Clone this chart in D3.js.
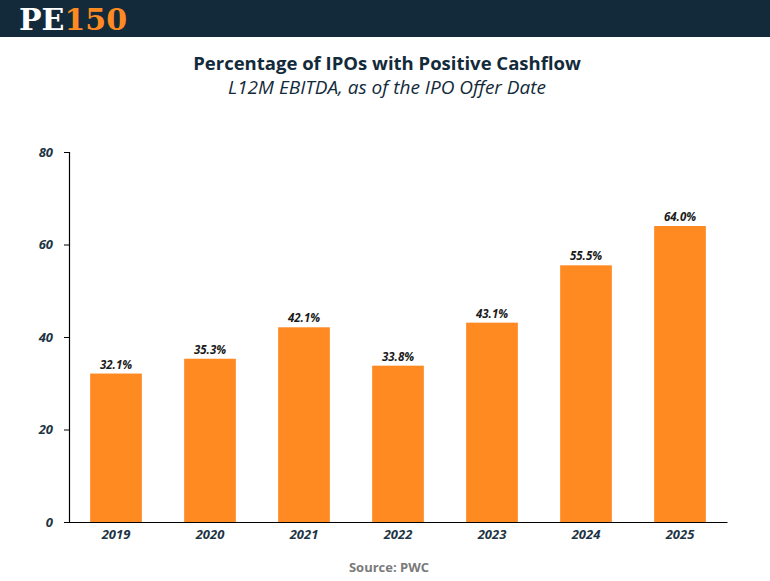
<!DOCTYPE html>
<html>
<head>
<meta charset="utf-8">
<script src="https://cdn.jsdelivr.net/npm/d3@7"></script>
<style>
  body { margin: 0; background: #fff; }
  svg { display: block; }
</style>
</head>
<body>
<div id="chart"></div>
<script>
// data
const years = ["2019", "2020", "2021", "2022", "2023", "2024", "2025"];
const shares = [32.1, 35.3, 42.1, 33.8, 43.1, 55.5, 64.0];
const yTicks = [0, 20, 40, 60, 80];

const width = 770;
const height = 581;
const margin = {top: 152, right: 43, bottom: 59, left: 69};
const innerWidth = width - margin.left - margin.right;
const innerHeight = height - margin.top - margin.bottom;

const navy = "#132a3a";
const orange = "#ff8a22";

const svg = d3.select("#chart")
  .append("svg")
    .attr("width", width)
    .attr("height", height);

// header band with logo
svg.append("rect")
  .attr("width", width)
  .attr("height", 37)
  .attr("fill", navy);

const logo = svg.append("text")
  .attr("x", 19)
  .attr("y", 30)
  .style("font-family", "'DejaVu Serif', serif")
  .style("font-weight", "900")
  .style("font-size", "30px")
  .style("letter-spacing", "0px");
logo.append("tspan").attr("fill", "#ffffff").text("PE");
logo.append("tspan").attr("fill", orange).text("150");

// titles
svg.append("text")
  .attr("x", width / 2 + 2)
  .attr("y", 70)
  .attr("text-anchor", "middle")
  .attr("fill", navy)
  .style("font-family", "'Open Sans', sans-serif")
  .style("font-weight", "700")
  .style("font-size", "18.5px")
  .text("Percentage of IPOs with Positive Cashflow");

svg.append("text")
  .attr("x", width / 2 + 2)
  .attr("y", 94)
  .attr("text-anchor", "middle")
  .attr("fill", navy)
  .style("font-family", "'Open Sans', sans-serif")
  .style("font-style", "italic")
  .style("font-size", "19px")
  .text("L12M EBITDA, as of the IPO Offer Date");

const g = svg.append("g")
  .attr("transform", `translate(${margin.left}, ${margin.top})`);

// X scale
const x = d3.scaleBand()
  .domain(years)
  .range([0, innerWidth])
  .paddingInner(0.45)
  .paddingOuter(0.225);

// Y scale
const y = d3.scaleLinear()
  .domain([0, 80])
  .range([innerHeight, 0]);

// bars
g.selectAll("rect.bar")
  .data(years)
  .enter()
  .append("rect")
    .attr("class", "bar")
    .attr("x", d => x(d))
    .attr("y", (d, i) => y(shares[i]))
    .attr("width", x.bandwidth())
    .attr("height", (d, i) => innerHeight - y(shares[i]))
    .attr("fill", orange);

// value labels
g.selectAll("text.val")
  .data(years)
  .enter()
  .append("text")
    .attr("class", "val")
    .attr("x", d => x(d) + x.bandwidth() / 2)
    .attr("y", (d, i) => y(shares[i]) - 5)
    .attr("text-anchor", "middle")
    .attr("fill", "#1a1a1a")
    .style("font-family", "'Open Sans', sans-serif")
    .style("font-weight", "700")
    .style("font-style", "italic")
    .style("font-size", "11.5px")
    .text((d, i) => shares[i].toFixed(1) + "%");

// Y axis
const yAxis = g.append("g")
  .call(d3.axisLeft(y).tickValues(yTicks).tickSize(5).tickPadding(11));
yAxis.select(".domain").attr("stroke", "#000").attr("stroke-width", 1.2);
yAxis.selectAll(".tick line").attr("stroke", "#000");
yAxis.selectAll(".tick text")
  .attr("fill", "#1d3444")
  .style("font-family", "'Open Sans', sans-serif")
  .style("font-weight", "700")
  .style("font-style", "italic")
  .style("font-size", "13px");

// X axis
const xAxis = g.append("g")
  .attr("transform", `translate(0, ${innerHeight})`)
  .call(d3.axisBottom(x).tickSize(0).tickPadding(8));
xAxis.select(".domain").attr("stroke", "#000").attr("stroke-width", 1.2);
xAxis.selectAll(".tick text")
  .attr("fill", "#1d3444")
  .style("font-family", "'Open Sans', sans-serif")
  .style("font-weight", "700")
  .style("font-style", "italic")
  .style("font-size", "13px");

// source
svg.append("text")
  .attr("x", width / 2 + 4)
  .attr("y", 572)
  .attr("text-anchor", "middle")
  .attr("fill", "#7a7a7a")
  .style("font-family", "'Open Sans', sans-serif")
  .style("font-weight", "700")
  .style("font-size", "13px")
  .text("Source: PWC");
</script>
</body>
</html>
